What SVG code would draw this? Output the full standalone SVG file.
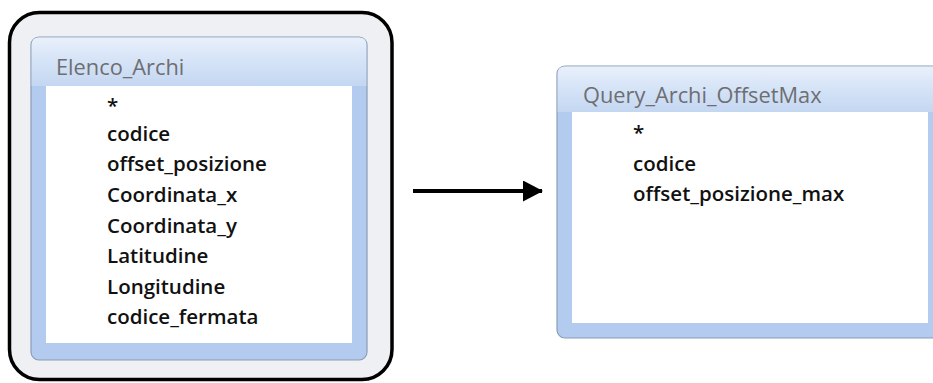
<svg xmlns="http://www.w3.org/2000/svg" width="933" height="383" viewBox="0 0 933 383">
<defs>
<linearGradient id="tb" x1="0" y1="0" x2="0" y2="1">
<stop offset="0" stop-color="#e9f0fb"/>
<stop offset="0.45" stop-color="#d6e4f7"/>
<stop offset="1" stop-color="#c4d7f1"/>
</linearGradient>
<marker id="ah" markerWidth="20" markerHeight="21" refX="19" refY="10.5" orient="auto" markerUnits="userSpaceOnUse" viewBox="0 0 20 21">
<path d="M0,0 L20,10.5 L0,21 Z" fill="#000"/>
</marker>
<style>
.frame{fill:#b3cbee;stroke:#8a9cb6;stroke-width:1.2}
.title{font-family:"Open Sans","Segoe UI","DejaVu Sans",sans-serif;font-size:21.8px;fill:#6e6e72}
.fld{font-family:"Open Sans","Segoe UI","DejaVu Sans",sans-serif;font-size:20.5px;font-weight:600;fill:#111}
</style>
</defs>
<g id="outer-box">
<rect x="9.5" y="12.5" width="382.5" height="367" rx="30" ry="30" fill="#eef0f3" stroke="#000" stroke-width="3.5"/>
</g>
<g id="elenco-archi">
<rect class="frame" x="31" y="37" width="336" height="323" rx="8" ry="8"/>
<path d="M31.6,45 Q31.6,37.6 39,37.6 L359,37.6 Q366.4,37.6 366.4,45 L366.4,86 L31.6,86 Z" fill="url(#tb)"/>
<rect x="46" y="86" width="306" height="257" fill="#fff"/>
<text class="title" x="56" y="75">Elenco_Archi</text>
<text class="fld" x="107" y="113">*</text>
<text class="fld" x="107" y="141">codice</text>
<text class="fld" x="107" y="171">offset_posizione</text>
<text class="fld" x="107" y="202">Coordinata_x</text>
<text class="fld" x="107" y="233">Coordinata_y</text>
<text class="fld" x="107" y="263">Latitudine</text>
<text class="fld" x="107" y="294">Longitudine</text>
<text class="fld" x="107" y="324">codice_fermata</text>
</g>
<g id="query-archi-offsetmax">
<rect class="frame" x="557" y="66" width="390" height="272" rx="8" ry="8"/>
<path d="M557.6,74 Q557.6,66.6 565,66.6 L946,66.6 L946,112 L557.6,112 Z" fill="url(#tb)"/>
<rect x="572" y="112" width="356" height="211" fill="#fff"/>
<text class="title" x="583" y="103">Query_Archi_OffsetMax</text>
<text class="fld" x="633" y="140">*</text>
<text class="fld" x="633" y="171">codice</text>
<text class="fld" x="633" y="201">offset_posizione_max</text>
</g>
<g id="connectors">
<line x1="413" y1="191" x2="542" y2="191" stroke="#000" stroke-width="4" marker-end="url(#ah)"/>
</g>
</svg>
